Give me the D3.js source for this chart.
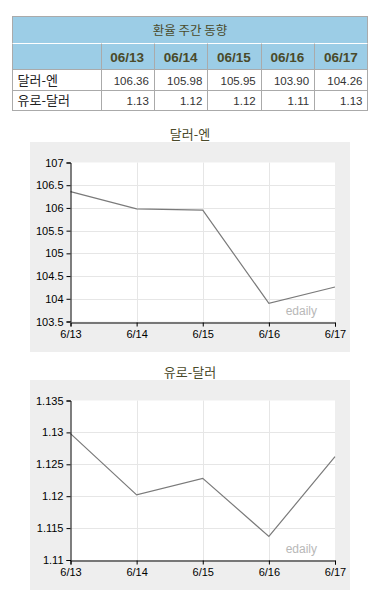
<!DOCTYPE html>
<html>
<head>
<meta charset="utf-8">
<script src="https://cdn.jsdelivr.net/npm/d3@7"></script>
<style>
	body { margin: 0; background: #fff; }
	text { font-family: "Liberation Sans", Arial, sans-serif; }
	.kr { font-family: "Noto Sans CJK KR", sans-serif; }
</style>
</head>
<body>
<script>
var dates = ["06/13", "06/14", "06/15", "06/16", "06/17"];
var shortDates = ["6/13", "6/14", "6/15", "6/16", "6/17"];
var tableTitle = "환율 주간 동향";
var rowNames = ["달러-엔", "유로-달러"];
var rowValues = [
	["106.36", "105.98", "105.95", "103.90", "104.26"],
	["1.13", "1.12", "1.12", "1.11", "1.13"]
];
var usdJpy = [106.36, 105.98, 105.95, 103.90, 104.26];
var eurUsd = [1.1298, 1.1202, 1.1228, 1.1137, 1.1262];
var jpyTicks = [103.5, 104, 104.5, 105, 105.5, 106, 106.5, 107];
var eurTicks = [1.11, 1.115, 1.12, 1.125, 1.13, 1.135];

var width = 380;
var height = 616;
var svg = d3.select("body").append("svg")
	.attr("width", width)
	.attr("height", height);

// ---- table ----
var tx = 12.5, tw = 355;
var firstCol = 88;
var colW = (tw - firstCol) / dates.length;
var rowTop = [16.5, 43.5, 69.5, 90.5, 110.5];
var border = "#aaaaaa";
var headBg = "#9ccde6";
var headText = "#4a4a2a";

svg.append("rect").attr("x", tx).attr("y", rowTop[0])
	.attr("width", tw).attr("height", rowTop[2] - rowTop[0])
	.attr("fill", headBg);
svg.append("rect").attr("x", tx).attr("y", rowTop[0])
	.attr("width", tw).attr("height", rowTop[4] - rowTop[0])
	.attr("fill", "none").attr("stroke", border);

svg.append("text").attr("class", "kr")
	.attr("x", tx + tw / 2).attr("y", (rowTop[0] + rowTop[1]) / 2 + 4.5)
	.attr("text-anchor", "middle").attr("font-size", 12.5)
	.attr("fill", headText).text(tableTitle);

[1, 2, 3].forEach(function(i) {
	svg.append("line").attr("x1", tx).attr("x2", tx + tw)
		.attr("y1", rowTop[i]).attr("y2", rowTop[i])
		.attr("stroke", i == 1 ? "#ffffff" : border);
});
for (var c = 0; c <= dates.length - 1; c++) {
	var cx = Math.round(tx + firstCol + c * colW) + 0.5;
	svg.append("line").attr("x1", cx).attr("x2", cx)
		.attr("y1", rowTop[1]).attr("y2", rowTop[4])
		.attr("stroke", border);
}
dates.forEach(function(d, i) {
	svg.append("text")
		.attr("x", tx + firstCol + (i + 0.5) * colW)
		.attr("y", (rowTop[1] + rowTop[2]) / 2 + 5)
		.attr("text-anchor", "middle").attr("font-size", 13.5)
		.attr("font-weight", "bold").attr("fill", headText)
		.text(d);
});
rowNames.forEach(function(name, r) {
	var yy = (rowTop[2 + r] + rowTop[3 + r]) / 2 + 4.5;
	svg.append("text").attr("class", "kr")
		.attr("x", tx + 5).attr("y", yy)
		.attr("font-size", 13).attr("fill", "#222").text(name);
	rowValues[r].forEach(function(v, i) {
		svg.append("text")
			.attr("x", tx + firstCol + (i + 1) * colW - 5).attr("y", yy)
			.attr("text-anchor", "end").attr("font-size", 11.5)
			.attr("fill", "#333").text(v);
	});
});

// ---- line charts ----
var drawChart = function(opt) {
	var g = svg.append("g");
	g.append("text").attr("class", "kr")
		.attr("x", 190).attr("y", opt.titleY)
		.attr("text-anchor", "middle").attr("font-size", 13)
		.attr("fill", headText).text(opt.title);
	g.append("rect").attr("x", 30).attr("y", opt.panelTop)
		.attr("width", 320).attr("height", opt.panelBottom - opt.panelTop)
		.attr("fill", "#eeeeee");

	var x = d3.scalePoint().domain(shortDates).range([70.5, 335]);
	var y = d3.scaleLinear().domain(opt.domain).range([opt.plotBottom, opt.plotTop]);

	g.append("rect").attr("x", 70.5).attr("y", opt.plotTop)
		.attr("width", 335 - 70.5).attr("height", opt.plotBottom - opt.plotTop)
		.attr("fill", "#ffffff");

	g.selectAll(".hg").data(opt.ticks.slice(1, -1)).enter().append("line")
		.attr("x1", 70.5).attr("x2", 335)
		.attr("y1", function(d) { return Math.round(y(d)) + 0.5; })
		.attr("y2", function(d) { return Math.round(y(d)) + 0.5; })
		.attr("stroke", "#e6e6e6");
	g.selectAll(".vg").data(shortDates.slice(1, -1)).enter().append("line")
		.attr("x1", function(d) { return Math.round(x(d)) + 0.5; })
		.attr("x2", function(d) { return Math.round(x(d)) + 0.5; })
		.attr("y1", opt.plotTop).attr("y2", opt.plotBottom)
		.attr("stroke", "#e6e6e6");

	var line = d3.line()
		.x(function(d, i) { return x(shortDates[i]); })
		.y(function(d) { return y(d); });
	g.append("path").datum(opt.values)
		.attr("d", line).attr("fill", "none")
		.attr("stroke", "#7a7a7a").attr("stroke-width", 1.2);

	g.append("text").attr("x", 317).attr("y", opt.plotBottom - 7)
		.attr("text-anchor", "end").attr("font-size", 12)
		.attr("fill", "#b8b8b8").text("edaily");

	var yAxis = g.append("g").attr("transform", "translate(70.5,0)")
		.call(d3.axisLeft(y).tickValues(opt.ticks).tickSize(4).tickPadding(3)
			.tickFormat(function(d) { return String(d); }));
	var xAxis = g.append("g").attr("transform", "translate(0," + (Math.round(opt.plotBottom) + 0.5) + ")")
		.call(d3.axisBottom(x).tickSize(4).tickPadding(4));
	[yAxis, xAxis].forEach(function(a) {
		a.select(".domain").attr("stroke", "#000");
		a.selectAll("text").attr("font-size", 11).attr("fill", "#000")
			.attr("font-family", "'Liberation Sans', Arial, sans-serif");
	});
};

drawChart({
	title: "달러-엔", titleY: 139, panelTop: 142, panelBottom: 352,
	plotTop: 162.5, plotBottom: 321.5, domain: [103.5, 107],
	ticks: jpyTicks, values: usdJpy
});
drawChart({
	title: "유로-달러", titleY: 377, panelTop: 380, panelBottom: 590,
	plotTop: 400.5, plotBottom: 560, domain: [1.11, 1.135],
	ticks: eurTicks, values: eurUsd
});
</script>
</body>
</html>
